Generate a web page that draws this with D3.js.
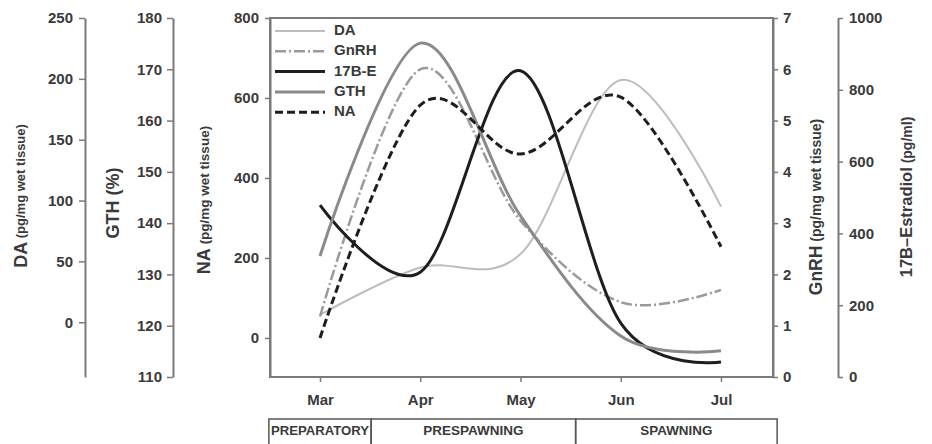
<!DOCTYPE html>
<html>
<head>
<meta charset="utf-8">
<script src="https://cdn.jsdelivr.net/npm/d3@7"></script>
<style>
  body { margin: 0; background: #fff; }
  svg { display: block; }
</style>
</head>
<body>
<script>
// data
var months = ["Mar", "Apr", "May", "Jun", "Jul"];
var daValues = [6, 45, 56, 199, 95];
var gnrhValues = [1.18, 6.0, 3.05, 1.46, 1.70];
var estradiolValues = [479, 292, 853, 150, 42];
var gthValues = [133.6, 175.1, 141.4, 118.0, 115.1];
var naValues = [0, 582, 460, 602, 228];

var daTicks = [0, 50, 100, 150, 200, 250];
var gthTicks = [110, 120, 130, 140, 150, 160, 170, 180];
var naTicks = [0, 200, 400, 600, 800];
var gnrhTicks = [0, 1, 2, 3, 4, 5, 6, 7];
var estradiolTicks = [0, 200, 400, 600, 800, 1000];
var phaseNames = ["PREPARATORY", "PRESPAWNING", "SPAWNING"];

var width = 932, height = 444;
var plotTop = 18, plotBottom = 377, plotLeft = 270, plotRight = 773;
var font = "'Liberation Sans', Arial, sans-serif";
var axisGrey = "#7a7a7a";
var textCol = "#3a3a3a";

var svg = d3.select("body").append("svg")
    .attr("width", width)
    .attr("height", height);

var x = d3.scaleLinear().domain([0, 4]).range([320, 721]);
var yDA = d3.scaleLinear().domain([-45, 250]).range([plotBottom, plotTop]);
var yGTH = d3.scaleLinear().domain([110, 180]).range([plotBottom, plotTop]);
var yNA = d3.scaleLinear().domain([-97.5, 800]).range([plotBottom, plotTop]);
var yGnRH = d3.scaleLinear().domain([0, 7]).range([plotBottom, plotTop]);
var yE2 = d3.scaleLinear().domain([0, 1000]).range([plotBottom, plotTop]);

function styleAxis(g) {
    g.select(".domain").attr("stroke", axisGrey).attr("stroke-width", 2);
    g.selectAll(".tick line").attr("stroke", axisGrey).attr("stroke-width", 1.5);
    g.selectAll(".tick text")
        .attr("fill", textCol)
        .attr("font-family", font)
        .attr("font-weight", "bold")
        .attr("font-size", "15px");
}

// left axes
svg.append("g").attr("transform", "translate(85,0)")
    .call(d3.axisLeft(yDA).tickValues(daTicks).tickFormat(d3.format("d"))
        .tickSize(6).tickSizeOuter(0).tickPadding(6))
    .call(styleAxis);
svg.append("g").attr("transform", "translate(173,0)")
    .call(d3.axisLeft(yGTH).tickValues(gthTicks).tickFormat(d3.format("d"))
        .tickSize(6).tickSizeOuter(0).tickPadding(5))
    .call(styleAxis);
svg.append("g").attr("transform", "translate(" + plotLeft + ",0)")
    .call(d3.axisLeft(yNA).tickValues(naTicks).tickFormat(d3.format("d"))
        .tickSize(5).tickSizeOuter(0).tickPadding(6))
    .call(styleAxis);

// right axes
svg.append("g").attr("transform", "translate(" + plotRight + ",0)")
    .call(d3.axisRight(yGnRH).tickValues(gnrhTicks).tickFormat(d3.format("d"))
        .tickSize(5).tickSizeOuter(0).tickPadding(5))
    .call(styleAxis);
svg.append("g").attr("transform", "translate(838,0)")
    .call(d3.axisRight(yE2).tickValues(estradiolTicks).tickFormat(d3.format("d"))
        .tickSize(5).tickSizeOuter(0).tickPadding(6))
    .call(styleAxis);

// x axis
svg.append("g").attr("transform", "translate(0," + plotBottom + ")")
    .call(d3.axisBottom(x).tickValues([0, 1, 2, 3, 4])
        .tickFormat(function(i) { return months[i]; })
        .tickSize(5).tickSizeOuter(0).tickPadding(12))
    .call(styleAxis)
    .call(function(g) { g.select(".domain").remove(); });

// plot frame
svg.append("rect")
    .attr("x", plotLeft).attr("y", plotTop)
    .attr("width", plotRight - plotLeft).attr("height", plotBottom - plotTop)
    .attr("fill", "none")
    .attr("stroke", axisGrey)
    .attr("stroke-width", 2);

// axis titles
function axisTitle(cx, cy, big, bigSize, small, smallSize) {
    var t = svg.append("text")
        .attr("transform", "translate(" + cx + "," + cy + ") rotate(-90)")
        .attr("text-anchor", "middle")
        .attr("dominant-baseline", "middle")
        .attr("font-family", font)
        .attr("font-weight", "bold")
        .attr("fill", textCol);
    t.append("tspan").attr("font-size", bigSize + "px").text(big);
    if (small) t.append("tspan").attr("font-size", smallSize + "px").text(" " + small);
}
axisTitle(22, 196, "DA", 18, "(pg/mg wet tissue)", 13);
axisTitle(114, 203, "GTH (%)", 18, null, 0);
axisTitle(205, 200, "NA", 18, "(pg/mg wet tissue)", 13.5);
axisTitle(817, 207, "GnRH", 17.5, "(pg/mg wet tissue)", 14);
axisTitle(908, 197, "17B\u2013Estradiol", 16.5, "(pg/ml)", 14);

// series
var line = d3.line().curve(d3.curveCardinal.tension(0));
var series = [
    { name: "DA", values: daValues, y: yDA, color: "#bdbdbd", width: 2, dash: null },
    { name: "GnRH", values: gnrhValues, y: yGnRH, color: "#9a9a9a", width: 2.5, dash: "11,3,2,3" },
    { name: "17B-E", values: estradiolValues, y: yE2, color: "#1e1e1e", width: 3, dash: null },
    { name: "GTH", values: gthValues, y: yGTH, color: "#8a8a8a", width: 3, dash: null },
    { name: "NA", values: naValues, y: yNA, color: "#1e1e1e", width: 3, dash: "8,4" }
];

series.forEach(function(s) {
    svg.append("path")
        .attr("d", line(s.values.map(function(v, i) { return [x(i), s.y(v)]; })))
        .attr("fill", "none")
        .attr("stroke", s.color)
        .attr("stroke-width", s.width)
        .attr("stroke-dasharray", s.dash);
});

// legend
series.forEach(function(s, i) {
    var ly = 31 + i * 20.3;
    svg.append("line")
        .attr("x1", 275).attr("x2", 325)
        .attr("y1", ly).attr("y2", ly)
        .attr("stroke", s.color)
        .attr("stroke-width", s.width)
        .attr("stroke-dasharray", s.dash);
    svg.append("text")
        .attr("x", 334).attr("y", ly)
        .attr("dominant-baseline", "middle")
        .attr("font-family", font)
        .attr("font-weight", "bold")
        .attr("font-size", "15px")
        .attr("fill", textCol)
        .text(s.name);
});

// phase table
var phaseEdges = [-0.51, 0.51, 2.55, 4.56];
var phaseTextLen = [98, 100, 72];
phaseNames.forEach(function(p, i) {
    var x0 = x(phaseEdges[i]), x1 = x(phaseEdges[i + 1]);
    svg.append("rect")
        .attr("x", x0).attr("y", 419)
        .attr("width", x1 - x0).attr("height", 30)
        .attr("fill", "none")
        .attr("stroke", "#555")
        .attr("stroke-width", 1.5);
    svg.append("text")
        .attr("x", (x0 + x1) / 2).attr("y", 432)
        .attr("text-anchor", "middle")
        .attr("dominant-baseline", "middle")
        .attr("font-family", font)
        .attr("font-weight", "bold")
        .attr("font-size", "12px")
        .attr("fill", textCol)
        .attr("textLength", phaseTextLen[i])
        .attr("lengthAdjust", "spacingAndGlyphs")
        .text(p);
});
</script>
</body>
</html>
